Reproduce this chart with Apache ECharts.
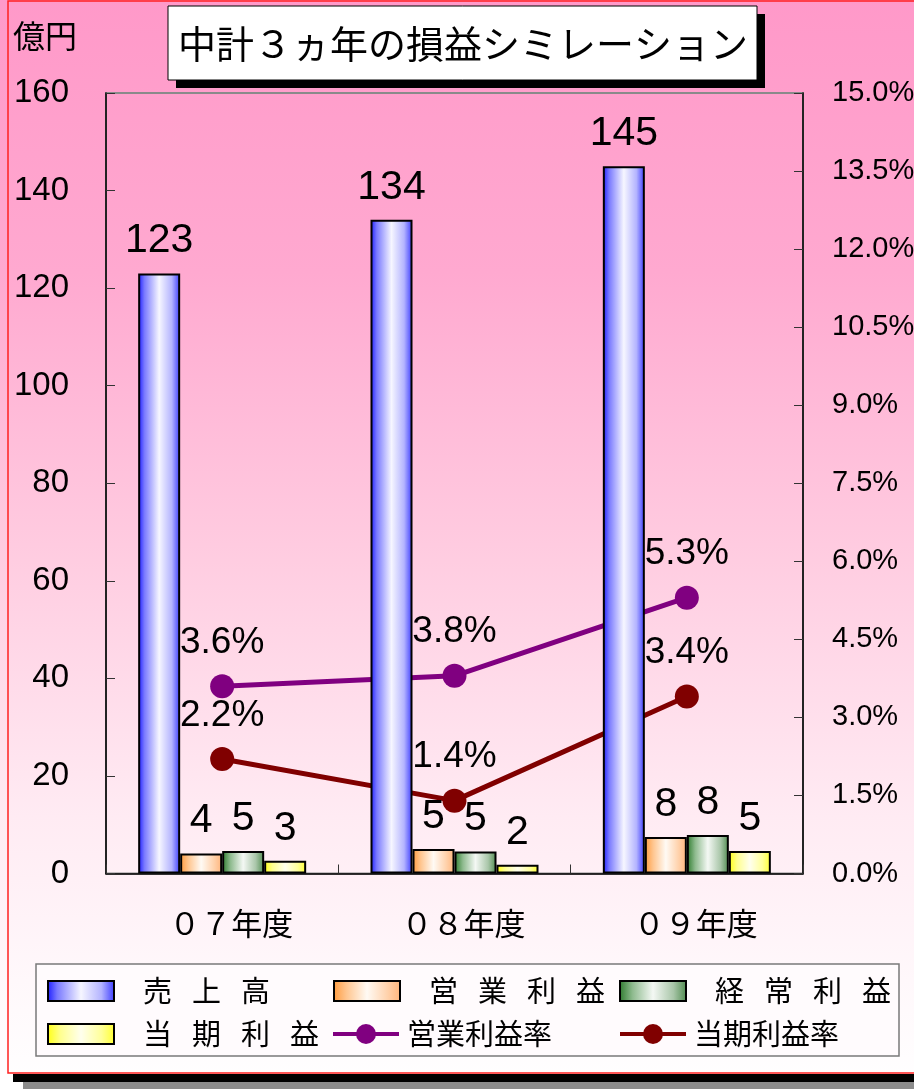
<!DOCTYPE html>
<html>
<head>
<meta charset="utf-8">
<script src="https://cdn.jsdelivr.net/npm/echarts@6/dist/echarts.min.js"></script>
<style>
html,body{margin:0;padding:0;background:#fff;}
#c{width:914px;height:1089px;}
</style>
</head>
<body>
<div id="c"></div>
<script>
// ---- data ----
const categories = ['０７年度', '０８年度', '０９年度'];
const barNames = ['売上高', '営業利益', '経常利益', '当期利益'];
const sales = [123, 134, 145];
const operatingProfit = [4.1, 5.0, 7.5];
const ordinaryProfit = [4.6, 4.5, 7.9];
const netProfit = [2.6, 1.8, 4.6];
const lineNames = ['営業利益率', '当期利益率'];
const operatingMargin = [3.6, 3.8, 5.3];
const netMargin = [2.2, 1.4, 3.4];
const leftAxisRange = [0, 160, 20];
const rightAxisRange = [0, 15, 1.5];
const titleText = '中計３ヵ年の損益シミレーション';
const unitText = '億円';

// ---- styles ----
const CJK = "'Noto Sans CJK JP', 'Noto Sans CJK SC', sans-serif";
const NUM = "'Liberation Sans', Arial, sans-serif";

function hgrad(stops) {
  return new echarts.graphic.LinearGradient(0, 0, 1, 0,
    stops.map(s => ({offset: s[0], color: s[1]})));
}
const barFills = [
  hgrad([[0, '#1a1aff'], [0.15, '#7a7aff'], [0.5, '#f6f6ff'], [0.8, '#b4b4ff'], [1, '#3a3aff']]),
  hgrad([[0, '#ff9a3c'], [0.2, '#ffc690'], [0.5, '#fffaf4'], [0.8, '#ffd2ac'], [1, '#ffb47a']]),
  hgrad([[0, '#2c7a2c'], [0.2, '#8fbb8f'], [0.5, '#f4f8f4'], [0.8, '#a9c6a9'], [1, '#4e8a4e']]),
  hgrad([[0, '#ffff10'], [0.2, '#ffff90'], [0.5, '#ffffee'], [0.8, '#ffff9a'], [1, '#ffff30']])
];
const lineColors = ['#800080', '#800000'];
const barData = [sales, operatingProfit, ordinaryProfit, netProfit];
const lineData = [operatingMargin, netMargin];

const series = [];
barNames.forEach((name, i) => {
  series.push({
    type: 'bar', name: name, data: barData[i], yAxisIndex: 0,
    barWidth: 42, barGap: '0%', z: 3,
    itemStyle: {color: barFills[i], borderColor: '#000', borderWidth: 2},
    label: {
      show: true, position: 'top', distance: 12,
      formatter: p => String(Math.round(p.value)),
      fontFamily: NUM, fontSize: 41, color: '#000'
    }
  });
});
lineNames.forEach((name, i) => {
  series.push({
    type: 'line', name: name, data: lineData[i], yAxisIndex: 1,
    symbol: 'circle', symbolSize: 24, z: 2,
    lineStyle: {color: lineColors[i], width: 5},
    itemStyle: {color: lineColors[i]},
    label: {
      show: true, position: 'top', distance: 13,
      formatter: p => p.value.toFixed(1) + '%',
      fontFamily: NUM, fontSize: 37, color: '#000'
    }
  });
});

function legendFor(name, left, centerY, isBar) {
  return {
    left: left, top: centerY - 15, padding: 0,
    itemWidth: 66, itemHeight: isBar ? 20 : 25,
    selectedMode: false,
    lineStyle: {width: 4},
    data: [isBar ? {name: name, icon: 'rect'} : {name: name}],
    formatter: n => isBar ? n.split('').join('{s|　}') : n,
    textStyle: {
      fontFamily: CJK, fontSize: 29, color: '#000', lineHeight: 30,
      padding: isBar ? [0, 0, 0, 24] : [0, 0, 0, 3],
      rich: {s: {fontSize: 20, fontFamily: CJK, lineHeight: 30}}
    }
  };
}
const legends = [
  legendFor(barNames[0], 47, 991, true),
  legendFor(barNames[1], 333, 991, true),
  legendFor(barNames[2], 619, 991, true),
  legendFor(barNames[3], 47, 1034, true),
  legendFor(lineNames[0], 331, 1034, false),
  legendFor(lineNames[1], 618, 1034, false)
];

const chart = echarts.init(document.getElementById('c'), null, {renderer: 'canvas', width: 914, height: 1089});
chart.setOption({
  animation: false,
  backgroundColor: new echarts.graphic.LinearGradient(0, 0, 0, 1, [
    {offset: 0, color: '#ff99c9'},
    {offset: 0.25, color: '#ffa9d0'},
    {offset: 0.5, color: '#ffcbe0'},
    {offset: 0.75, color: '#ffebf3'},
    {offset: 0.9, color: '#fff8fb'},
    {offset: 1, color: '#ffffff'}
  ]),
  grid: {left: 106, right: 111, top: 93, bottom: 215.5, show: true,
         borderColor: '#8a8a8a', borderWidth: 2, backgroundColor: 'transparent',
         containLabel: false, outerBoundsMode: 'none'},
  legend: legends,
  xAxis: {
    type: 'category', data: categories,
    axisLine: {show: true, lineStyle: {color: '#000', width: 1.5}},
    axisTick: {show: true, inside: true, length: 9, lineStyle: {color: '#333'}},
    axisLabel: {fontFamily: CJK, fontSize: 31, color: '#000', margin: 34, padding: [0, 0, 0, 18]},
    splitLine: {show: false}
  },
  yAxis: [
    {
      type: 'value', position: 'left',
      min: leftAxisRange[0], max: leftAxisRange[1], interval: leftAxisRange[2],
      axisLine: {show: true, lineStyle: {color: '#000', width: 1.5}},
      axisTick: {show: true, inside: true, length: 9, lineStyle: {color: '#333'}},
      axisLabel: {fontFamily: NUM, fontSize: 33, color: '#000', margin: 37, padding: [8, 0, 0, 0]},
      splitLine: {show: false}
    },
    {
      type: 'value', position: 'right',
      min: rightAxisRange[0], max: rightAxisRange[1], interval: rightAxisRange[2],
      axisLine: {show: true, lineStyle: {color: '#000', width: 1.5}},
      axisTick: {show: true, inside: true, length: 9, lineStyle: {color: '#333'}},
      axisLabel: {fontFamily: NUM, fontSize: 29, color: '#000', margin: 29, padding: [6, 0, 0, 0],
                  formatter: v => v.toFixed(1) + '%'},
      splitLine: {show: false}
    }
  ],
  series: series,
  graphic: [
    {type: 'rect', z: -5, silent: true, shape: {x: 0, y: 1074, width: 914, height: 15}, style: {fill: '#ffffff'}},
    {type: 'rect', z: -4, silent: true, shape: {x: 8, y: 1, width: 920, height: 1072}, style: {fill: 'none', stroke: '#ff2020', lineWidth: 1.5}},
    {type: 'rect', z: -3, silent: true, shape: {x: 13, y: 1074, width: 901, height: 8}, style: {fill: '#000'}},
    {type: 'rect', z: -3, silent: true, shape: {x: 23, y: 1082, width: 891, height: 7}, style: {fill: '#8c8c8c'}},
    {type: 'rect', z: -2, silent: true, shape: {x: 36, y: 964, width: 863, height: 92}, style: {fill: '#fffbfd', stroke: '#7a7a7a', lineWidth: 1.5}},
    {type: 'rect', z: 10, silent: true, shape: {x: 176, y: 14, width: 589, height: 74}, style: {fill: '#000'}},
    {type: 'rect', z: 11, silent: true, shape: {x: 168, y: 6, width: 589, height: 74}, style: {fill: '#fff', stroke: '#000', lineWidth: 1}},
    {type: 'text', z: 12, silent: true, x: 463, y: 44,
     style: {text: titleText, fontSize: 38, fontFamily: CJK, fill: '#000',
             align: 'center', verticalAlign: 'middle', textAlign: 'center', textVerticalAlign: 'middle'}},
    {type: 'text', z: 12, silent: true, x: 13, y: 36,
     style: {text: unitText, fontSize: 32, fontFamily: CJK, fill: '#000',
             align: 'left', verticalAlign: 'middle', textAlign: 'left', textVerticalAlign: 'middle'}}
  ]
});
</script>
</body>
</html>
